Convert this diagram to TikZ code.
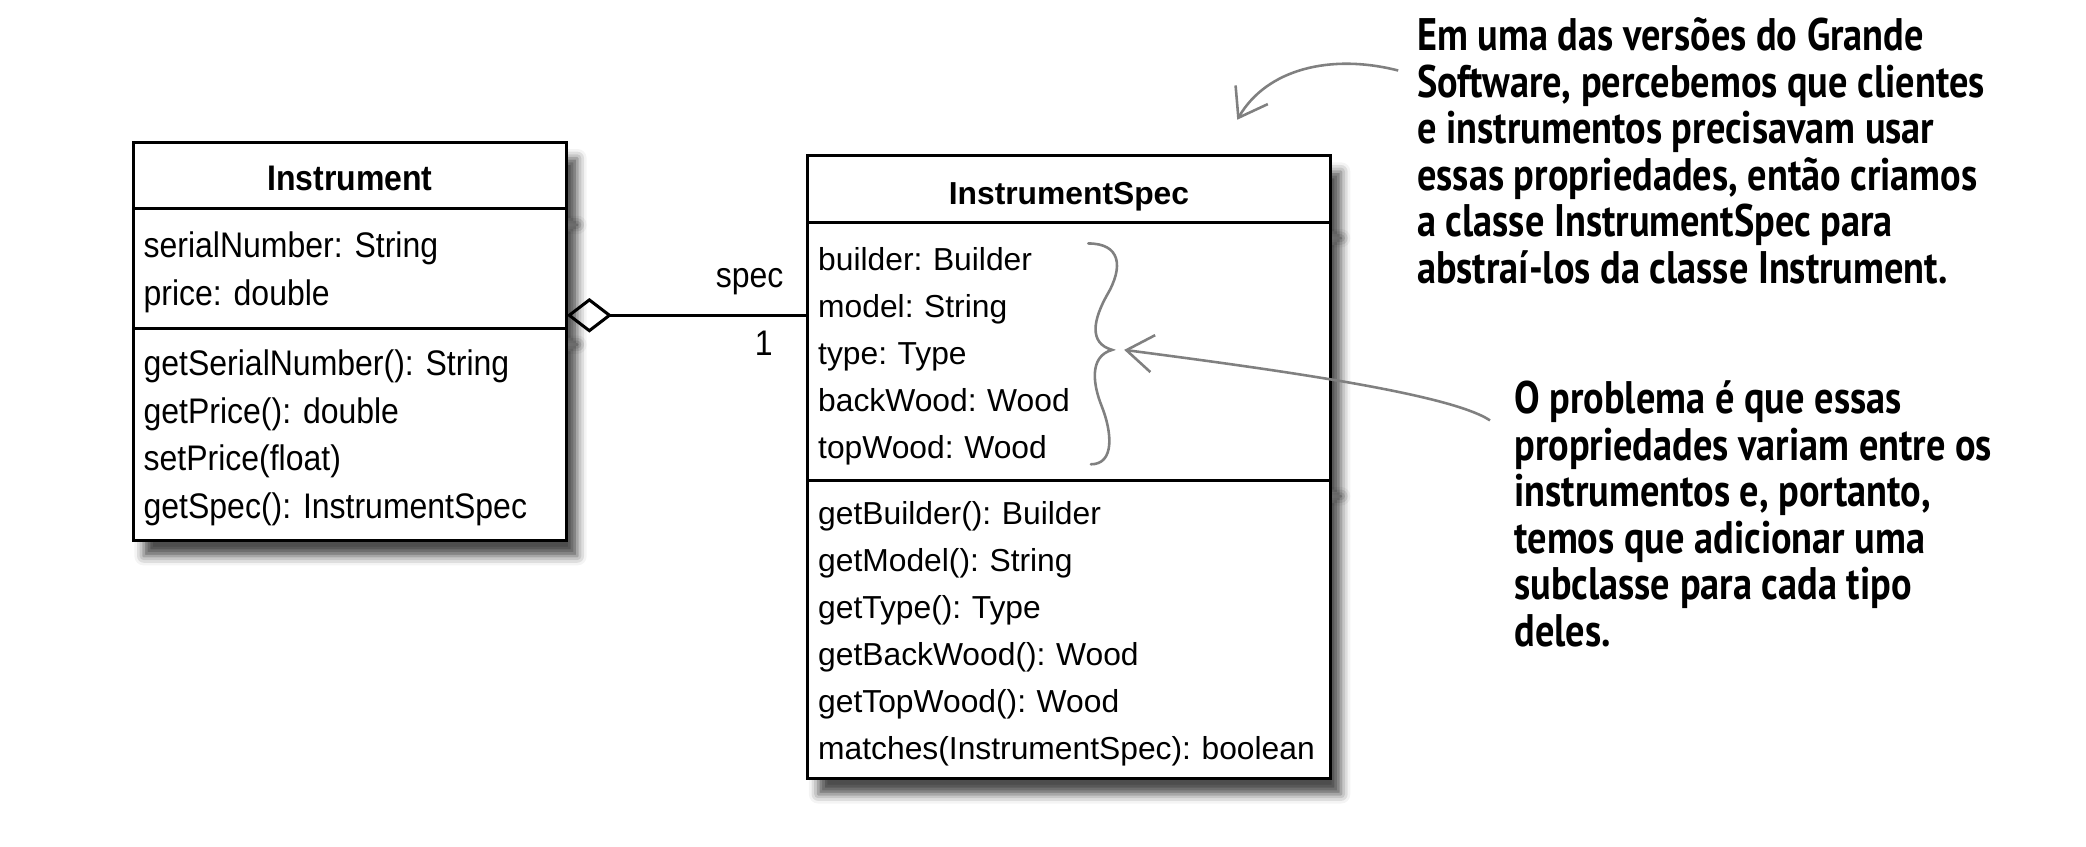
\documentclass[tikz,border=0pt]{standalone}
\usepackage{fontspec}
\setmainfont{Liberation Sans}
\newfontfamily\narrowfont[FakeStretch=0.9]{Liberation Sans}
\newfontfamily\handfont[FakeStretch=0.84]{PT Sans}
\usetikzlibrary{positioning,arrows.meta,shadows.blur}
\frenchspacing

\begin{document}
\begin{tikzpicture}[x=0.2mm,y=-0.2mm,
    umlpart/.style={rectangle, draw=black, line width=1.3pt, fill=white, inner xsep=1.6mm, inner ysep=0pt, outer sep=0pt,
      blur shadow={shadow xshift=1.6mm, shadow yshift=-2.4mm, shadow blur radius=1.4mm, shadow opacity=70}},
    umltitle/.style={umlpart, align=center, minimum height=10mm, text height=4.6mm, text depth=0pt,
      font=\fontsize{13.6}{16}\selectfont\bfseries},
    umlbody/.style={umlpart, align=left, font=\fontsize{13.6}{20.1}\selectfont,
      execute at begin node={\rule{0pt}{14pt}}},
    narrow/.style={font=\narrowfont\fontsize{15.2}{20.4}\selectfont},
    narrowtitle/.style={font=\narrowfont\fontsize{15.2}{16}\selectfont\bfseries},
    note/.style={align=left, inner sep=0pt, font=\handfont\bfseries\fontsize{19.5}{19.9}\selectfont},
    notearrow/.style={draw=black!50, line width=1.1pt, -{Straight Barb[length=4mm,width=5.6mm]}},
    endlabel/.style={inner sep=0pt, font=\narrowfont\fontsize{15.2}{18}\selectfont}]
  \useasboundingbox (0,0) rectangle (1568,636);

  % Instrument class
  \node[umltitle, narrowtitle, minimum width=65.2mm, anchor=north] (insttitle) at (263,107) {Instrument};
  \node[umlbody, narrow, text width=62mm, minimum height=18mm, below=0pt of insttitle] (instattr)
    {serialNumber: String\\price: double};
  \node[umlbody, narrow, text width=62mm, minimum height=31.8mm, below=0pt of instattr] (instmeth)
    {getSerialNumber(): String\\getPrice(): double\\setPrice(float)\\getSpec(): InstrumentSpec};

  % InstrumentSpec class
  \node[umltitle, minimum width=78.6mm, anchor=north] (spectitle) at (803.5,117) {InstrumentSpec};
  \node[umlbody, text width=75.4mm, minimum height=38.8mm, below=0pt of spectitle] (specattr)
    {builder: Builder\\model: String\\type: Type\\backWood: Wood\\topWood: Wood};
  \node[umlbody, text width=75.4mm, minimum height=44.8mm, below=0pt of specattr] (specmeth)
    {getBuilder(): Builder\\getModel(): String\\getType(): Type\\getBackWood(): Wood\\getTopWood(): Wood\\matches(InstrumentSpec): boolean};

  % aggregation
  \coordinate (aggy) at (500,237);
  \draw[line width=1.3pt, {Diamond[open,length=6.8mm,width=5.2mm]}-] (instattr.east |- aggy) -- (specattr.west |- aggy)
    node[endlabel, pos=1, anchor=base east, xshift=-3.4mm, yshift=4.2mm] {spec}
    node[endlabel, pos=1, anchor=north east, xshift=-5mm, yshift=-2.2mm] {1};

  % brace round the attributes
  \draw[black!50, line width=1.1pt, line cap=round]
    (818,183) .. controls (842,183) and (845,200) .. (832,222)
    .. controls (822,240) and (818,258) .. (836,263)
    .. controls (818,268) and (822,290) .. (828,305)
    .. controls (836,325) and (838,349) .. (820,349);

  % notes
  \node[note, anchor=north west] (topnote) at (1065,13)
    {Em uma das versões do Grande\\Software, percebemos que clientes\\e instrumentos precisavam usar\\essas propriedades, então criamos\\a classe InstrumentSpec para\\abstraí-los da classe Instrument.};
  \node[note, anchor=north west] (botnote) at (1138,286)
    {O problema é que essas\\propriedades variam entre os\\instrumentos e, portanto,\\temos que adicionar uma\\subclasse para cada tipo\\deles.};

  \coordinate (specpt) at (930,90);
  \coordinate (bracept) at (845,263);
  \draw[notearrow] ([xshift=-2.8mm,yshift=-8mm]topnote.north west) .. controls (1000,40) and (952,52) .. (specpt);
  \draw[notearrow] ([xshift=-3.6mm,yshift=-6mm]botnote.north west) .. controls (1090,296) and (960,278) .. (bracept);
\end{tikzpicture}
\end{document}
